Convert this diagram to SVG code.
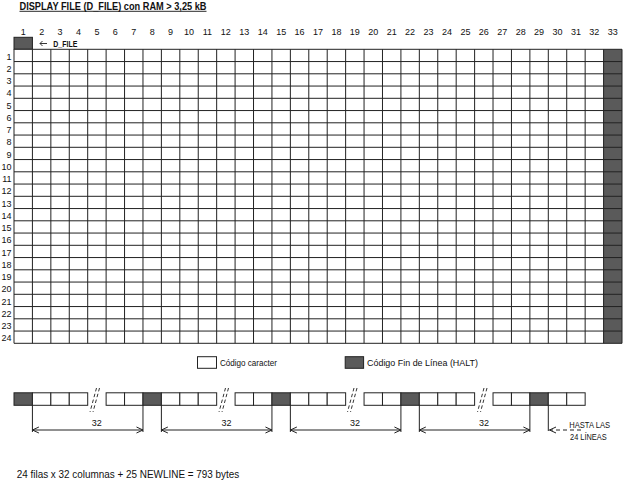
<svg xmlns="http://www.w3.org/2000/svg" width="640" height="488" viewBox="0 0 640 488">
<style>
text{font-family:"Liberation Sans",Arial,sans-serif;fill:#111}
.num{font-size:9px;text-anchor:middle}
.row{font-size:9px;text-anchor:end}
.ln{stroke:#222;stroke-width:1;fill:none}
.cell{fill:#fff;stroke:#222;stroke-width:1}
.dark{fill:#5a5a5a;stroke:#222;stroke-width:1}
.brk{stroke:#333;stroke-width:1;stroke-dasharray:3.5 2.5;fill:none}
.lbl{font-size:9px}
</style>
<defs>
<marker id="ah" viewBox="0 0 8 8" refX="7.5" refY="4" markerWidth="8" markerHeight="8" orient="auto-start-reverse" markerUnits="userSpaceOnUse">
<path d="M1 1L7.5 4L1 7" fill="none" stroke="#222" stroke-width="1"/>
</marker>
</defs>
<rect width="640" height="488" fill="#fff"/>
<g id="title"><text x="19.5" y="9.5" font-size="10" font-weight="bold" textLength="187" lengthAdjust="spacingAndGlyphs">DISPLAY FILE (D_FILE) con RAM &gt; 3,25 kB</text><line x1="19.5" y1="11.3" x2="206.5" y2="11.3" stroke="#111" stroke-width="0.9"/></g>
<g id="col-numbers">
<text class="num" x="23.21" y="34.5">1</text><text class="num" x="41.64" y="34.5">2</text><text class="num" x="60.06" y="34.5">3</text><text class="num" x="78.48" y="34.5">4</text><text class="num" x="96.91" y="34.5">5</text><text class="num" x="115.33" y="34.5">6</text><text class="num" x="133.76" y="34.5">7</text><text class="num" x="152.18" y="34.5">8</text><text class="num" x="170.61" y="34.5">9</text><text class="num" x="189.03" y="34.5">10</text><text class="num" x="207.45" y="34.5">11</text><text class="num" x="225.88" y="34.5">12</text><text class="num" x="244.30" y="34.5">13</text><text class="num" x="262.73" y="34.5">14</text><text class="num" x="281.15" y="34.5">15</text><text class="num" x="299.58" y="34.5">16</text><text class="num" x="318.00" y="34.5">17</text><text class="num" x="336.42" y="34.5">18</text><text class="num" x="354.85" y="34.5">19</text><text class="num" x="373.27" y="34.5">20</text><text class="num" x="391.70" y="34.5">21</text><text class="num" x="410.12" y="34.5">22</text><text class="num" x="428.55" y="34.5">23</text><text class="num" x="446.97" y="34.5">24</text><text class="num" x="465.39" y="34.5">25</text><text class="num" x="483.82" y="34.5">26</text><text class="num" x="502.24" y="34.5">27</text><text class="num" x="520.67" y="34.5">28</text><text class="num" x="539.09" y="34.5">29</text><text class="num" x="557.52" y="34.5">30</text><text class="num" x="575.94" y="34.5">31</text><text class="num" x="594.36" y="34.5">32</text><text class="num" x="612.79" y="34.5">33</text>
</g>
<g id="row-numbers">
<text class="row" x="11.5" y="59.6">1</text><text class="row" x="11.5" y="71.9">2</text><text class="row" x="11.5" y="84.1">3</text><text class="row" x="11.5" y="96.4">4</text><text class="row" x="11.5" y="108.6">5</text><text class="row" x="11.5" y="120.9">6</text><text class="row" x="11.5" y="133.1">7</text><text class="row" x="11.5" y="145.4">8</text><text class="row" x="11.5" y="157.6">9</text><text class="row" x="11.5" y="169.9">10</text><text class="row" x="11.5" y="182.1">11</text><text class="row" x="11.5" y="194.4">12</text><text class="row" x="11.5" y="206.6">13</text><text class="row" x="11.5" y="218.9">14</text><text class="row" x="11.5" y="231.1">15</text><text class="row" x="11.5" y="243.4">16</text><text class="row" x="11.5" y="255.6">17</text><text class="row" x="11.5" y="267.9">18</text><text class="row" x="11.5" y="280.1">19</text><text class="row" x="11.5" y="292.4">20</text><text class="row" x="11.5" y="304.6">21</text><text class="row" x="11.5" y="316.9">22</text><text class="row" x="11.5" y="329.1">23</text><text class="row" x="11.5" y="341.4">24</text>
</g>
<g id="grid">
<rect class="dark" x="14" y="37.3" width="18.42" height="12"/>
<rect x="14" y="49.3" width="608" height="294" fill="#fff"/>
<rect x="603.58" y="49.3" width="18.42" height="294" fill="#5a5a5a"/>
<path class="ln" d="M14 49.3V343.3M32.42 49.3V343.3M50.85 49.3V343.3M69.27 49.3V343.3M87.7 49.3V343.3M106.12 49.3V343.3M124.55 49.3V343.3M142.97 49.3V343.3M161.39 49.3V343.3M179.82 49.3V343.3M198.24 49.3V343.3M216.67 49.3V343.3M235.09 49.3V343.3M253.52 49.3V343.3M271.94 49.3V343.3M290.36 49.3V343.3M308.79 49.3V343.3M327.21 49.3V343.3M345.64 49.3V343.3M364.06 49.3V343.3M382.48 49.3V343.3M400.91 49.3V343.3M419.33 49.3V343.3M437.76 49.3V343.3M456.18 49.3V343.3M474.61 49.3V343.3M493.03 49.3V343.3M511.45 49.3V343.3M529.88 49.3V343.3M548.3 49.3V343.3M566.73 49.3V343.3M585.15 49.3V343.3M603.58 49.3V343.3M622 49.3V343.3"/>
<path class="ln" d="M14 49.3H622M14 61.55H622M14 73.8H622M14 86.05H622M14 98.3H622M14 110.55H622M14 122.8H622M14 135.05H622M14 147.3H622M14 159.55H622M14 171.8H622M14 184.05H622M14 196.3H622M14 208.55H622M14 220.8H622M14 233.05H622M14 245.3H622M14 257.55H622M14 269.8H622M14 282.05H622M14 294.3H622M14 306.55H622M14 318.8H622M14 331.05H622M14 343.3H622"/>
</g>
<g id="dfile-label">
<path d="M47 43.5H40M42.5 41L40 43.5L42.5 46" fill="none" stroke="#222" stroke-width="0.9"/>
<text x="53.3" y="46.7" font-size="8.5" font-weight="bold" textLength="24" lengthAdjust="spacingAndGlyphs">D_FILE</text>
</g>
<g id="legend">
<rect class="cell" x="197.5" y="356.7" width="19" height="11.6"/>
<text class="lbl" x="220" y="365.7" textLength="57" lengthAdjust="spacingAndGlyphs">Código caracter</text>
<rect class="dark" x="345.2" y="356.7" width="18.4" height="11.6"/>
<text class="lbl" x="367" y="365.7" textLength="111" lengthAdjust="spacingAndGlyphs">Código Fin de Línea (HALT)</text>
</g>
<g id="strip">
<rect class="dark" x="14" y="392.8" width="18.42" height="12.5"/>
<rect class="cell" x="32.42" y="392.8" width="18.43" height="12.5"/><rect class="cell" x="50.85" y="392.8" width="18.42" height="12.5"/><rect class="cell" x="69.27" y="392.8" width="18.43" height="12.5"/>
<rect class="cell" x="106.12" y="392.8" width="18.43" height="12.5"/><rect class="cell" x="124.55" y="392.8" width="18.42" height="12.5"/><rect class="dark" x="142.97" y="392.8" width="18.42" height="12.5"/><rect class="cell" x="161.39" y="392.8" width="18.43" height="12.5"/><rect class="cell" x="179.82" y="392.8" width="18.42" height="12.5"/><rect class="cell" x="198.24" y="392.8" width="18.43" height="12.5"/>
<rect class="cell" x="235.09" y="392.8" width="18.43" height="12.5"/><rect class="cell" x="253.52" y="392.8" width="18.42" height="12.5"/><rect class="dark" x="271.94" y="392.8" width="18.42" height="12.5"/><rect class="cell" x="290.36" y="392.8" width="18.43" height="12.5"/><rect class="cell" x="308.79" y="392.8" width="18.42" height="12.5"/><rect class="cell" x="327.21" y="392.8" width="18.43" height="12.5"/>
<rect class="cell" x="364.06" y="392.8" width="18.42" height="12.5"/><rect class="cell" x="382.48" y="392.8" width="18.43" height="12.5"/><rect class="dark" x="400.91" y="392.8" width="18.42" height="12.5"/><rect class="cell" x="419.33" y="392.8" width="18.43" height="12.5"/><rect class="cell" x="437.76" y="392.8" width="18.42" height="12.5"/><rect class="cell" x="456.18" y="392.8" width="18.43" height="12.5"/>
<rect class="cell" x="493.03" y="392.8" width="18.42" height="12.5"/><rect class="cell" x="511.45" y="392.8" width="18.43" height="12.5"/><rect class="dark" x="529.88" y="392.8" width="18.42" height="12.5"/><rect class="cell" x="548.3" y="392.8" width="18.43" height="12.5"/><rect class="cell" x="566.73" y="392.8" width="18.42" height="12.5"/>
</g>
<g id="breaks">
<path class="brk" d="M96.5 388L90 412M99.5 388L93 412"/>
<path class="brk" d="M225.5 388L219 412M228.5 388L222 412"/>
<path class="brk" d="M354 388L347.5 412M357 388L350.5 412"/>
<path class="brk" d="M484 388L477.5 412M487 388L480.5 412"/>
</g>
<g id="connectors">
<path class="ln" d="M32.42 405.3V432M142.97 405.3V432M161.39 405.3V432M271.94 405.3V432M290.36 405.3V432M400.91 405.3V432M419.33 405.3V432M529.88 405.3V432M548.3 405.3V431"/>
<line class="ln" x1="32.42" y1="430" x2="142.97" y2="430" marker-start="url(#ah)" marker-end="url(#ah)"/>
<line class="ln" x1="161.39" y1="430" x2="271.94" y2="430" marker-start="url(#ah)" marker-end="url(#ah)"/>
<line class="ln" x1="290.36" y1="430" x2="400.91" y2="430" marker-start="url(#ah)" marker-end="url(#ah)"/>
<line class="ln" x1="419.33" y1="430" x2="529.88" y2="430" marker-start="url(#ah)" marker-end="url(#ah)"/>
<line x1="581" y1="430" x2="549.5" y2="430" stroke="#222" stroke-width="1" stroke-dasharray="4 3" marker-end="url(#ah)"/>
<text class="num" x="96.7" y="426">32</text>
<text class="num" x="226.5" y="426">32</text>
<text class="num" x="355" y="426">32</text>
<text class="num" x="484" y="426">32</text>
<text x="569.3" y="428.3" font-size="9.3" textLength="40.7" lengthAdjust="spacingAndGlyphs">HASTA LAS</text>
<text x="570" y="439.5" font-size="9.3" textLength="36.7" lengthAdjust="spacingAndGlyphs">24 LÍNEAS</text>
</g>
<g id="footer"><text x="16.7" y="478.3" font-size="10.5" textLength="222.6" lengthAdjust="spacingAndGlyphs">24 filas x 32 columnas + 25 NEWLINE = 793 bytes</text></g>
</svg>
